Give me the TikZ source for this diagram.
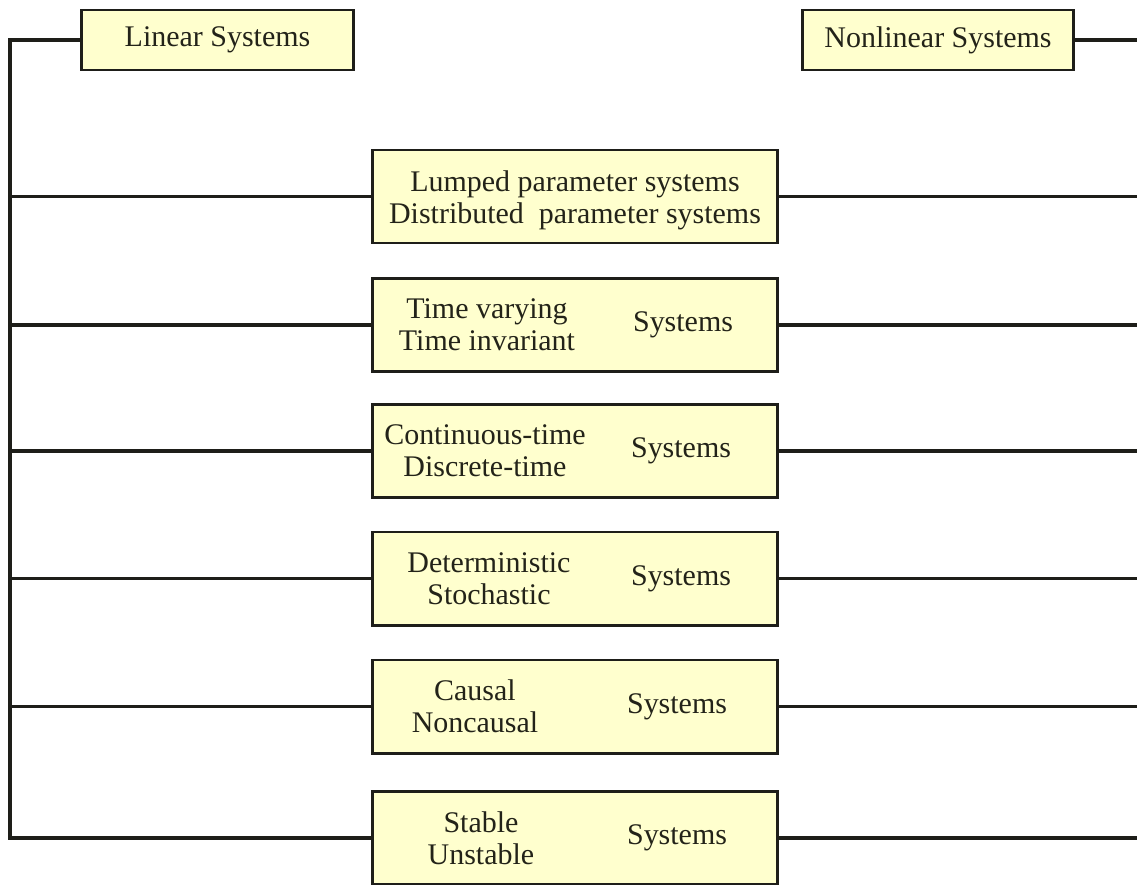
\documentclass[tikz,border=0pt]{standalone}
\usepackage{fontspec}
\setmainfont{Liberation Serif}
\usepackage{xcolor}
\definecolor{boxfill}{RGB}{255, 255, 206}
\definecolor{linecol}{RGB}{30, 30, 25}
\definecolor{textcol}{RGB}{35, 35, 25}
\usetikzlibrary{calc}

\newcommand{\sysfont}{\fontsize{21.3}{22.5}\selectfont}

\tikzset{
    sysbox/.style={draw=linecol, line width=2.1pt, fill=boxfill,
        minimum width=10.1cm, minimum height=2.325cm, inner sep=0pt},
    topbox/.style={draw=linecol, line width=2.1pt, fill=boxfill,
        minimum width=6.775cm, minimum height=1.5cm, inner sep=0pt,
        text=textcol, font=\sysfont},
    systxt/.style={align=center, text=textcol, font=\sysfont, inner sep=0pt},
    link/.style={draw=linecol, line width=2.2pt}
}

\begin{document}
\begin{tikzpicture}[x=0.025cm, y=-0.025cm]
                \useasboundingbox (0,0) rectangle (1137,884);

                % Top boxes
                \node[topbox] (lin) at (217.5,40) {Linear Systems};
                \node[topbox] (nonlin) at (938,40) {Nonlinear Systems};

                % Classification boxes
                \node[sysbox] (lump) at (575,196.5) {};
                \node[systxt] (lumpT) at ([yshift=-0.1cm]lump.center) {Lumped parameter systems\\Distributed\ \ parameter systems};

                \node[sysbox] (tv) at (575,325) {};
                \node[systxt] (tvL) at ([xshift=-2.2cm]tv.center) {Time varying\\Time invariant};
                \node[systxt] (tvR) at ([xshift=2.7cm]tv.center) {Systems};

                \node[sysbox] (ct) at (575,451) {};
                \node[systxt] (ctL) at ([xshift=-2.25cm]ct.center) {Continuous-time\\Discrete-time};
                \node[systxt] (ctR) at ([xshift=2.65cm]ct.center) {Systems};

                \node[sysbox] (det) at (575,578.5) {};
                \node[systxt] (detL) at ([xshift=-2.15cm]det.center) {Deterministic\\Stochastic};
                \node[systxt] (detR) at ([xshift=2.65cm]det.center) {Systems};

                \node[sysbox] (cau) at (575,706.5) {};
                \node[systxt] (cauL) at ([xshift=-2.5cm]cau.center) {Causal\\Noncausal};
                \node[systxt] (cauR) at ([xshift=2.55cm]cau.center) {Systems};

                \node[sysbox] (stab) at (575,838) {};
                \node[systxt] (stabL) at ([xshift=-2.35cm]stab.center) {Stable\\Unstable};
                \node[systxt] (stabR) at ([xshift=2.55cm]stab.center) {Systems};

                % Left bus
                \coordinate (bus) at (10,42);
                \draw[link] (lin.west) -| (stab.west -| bus) -- (stab.west);
                \draw[link] (lump.west -| bus) -- (lump.west);
                \draw[link] (tv.west -| bus) -- (tv.west);
                \draw[link] (ct.west -| bus) -- (ct.west);
                \draw[link] (det.west -| bus) -- (det.west);
                \draw[link] (cau.west -| bus) -- (cau.west);

                % Right side
                \coordinate (redge) at (1137,42);
                \draw[link] (nonlin.east) -- (nonlin.east -| redge);
                \draw[link] (lump.east) -- (lump.east -| redge);
                \draw[link] (tv.east) -- (tv.east -| redge);
                \draw[link] (ct.east) -- (ct.east -| redge);
                \draw[link] (det.east) -- (det.east -| redge);
                \draw[link] (cau.east) -- (cau.east -| redge);
                \draw[link] (stab.east) -- (stab.east -| redge);
            \end{tikzpicture}
\end{document}
